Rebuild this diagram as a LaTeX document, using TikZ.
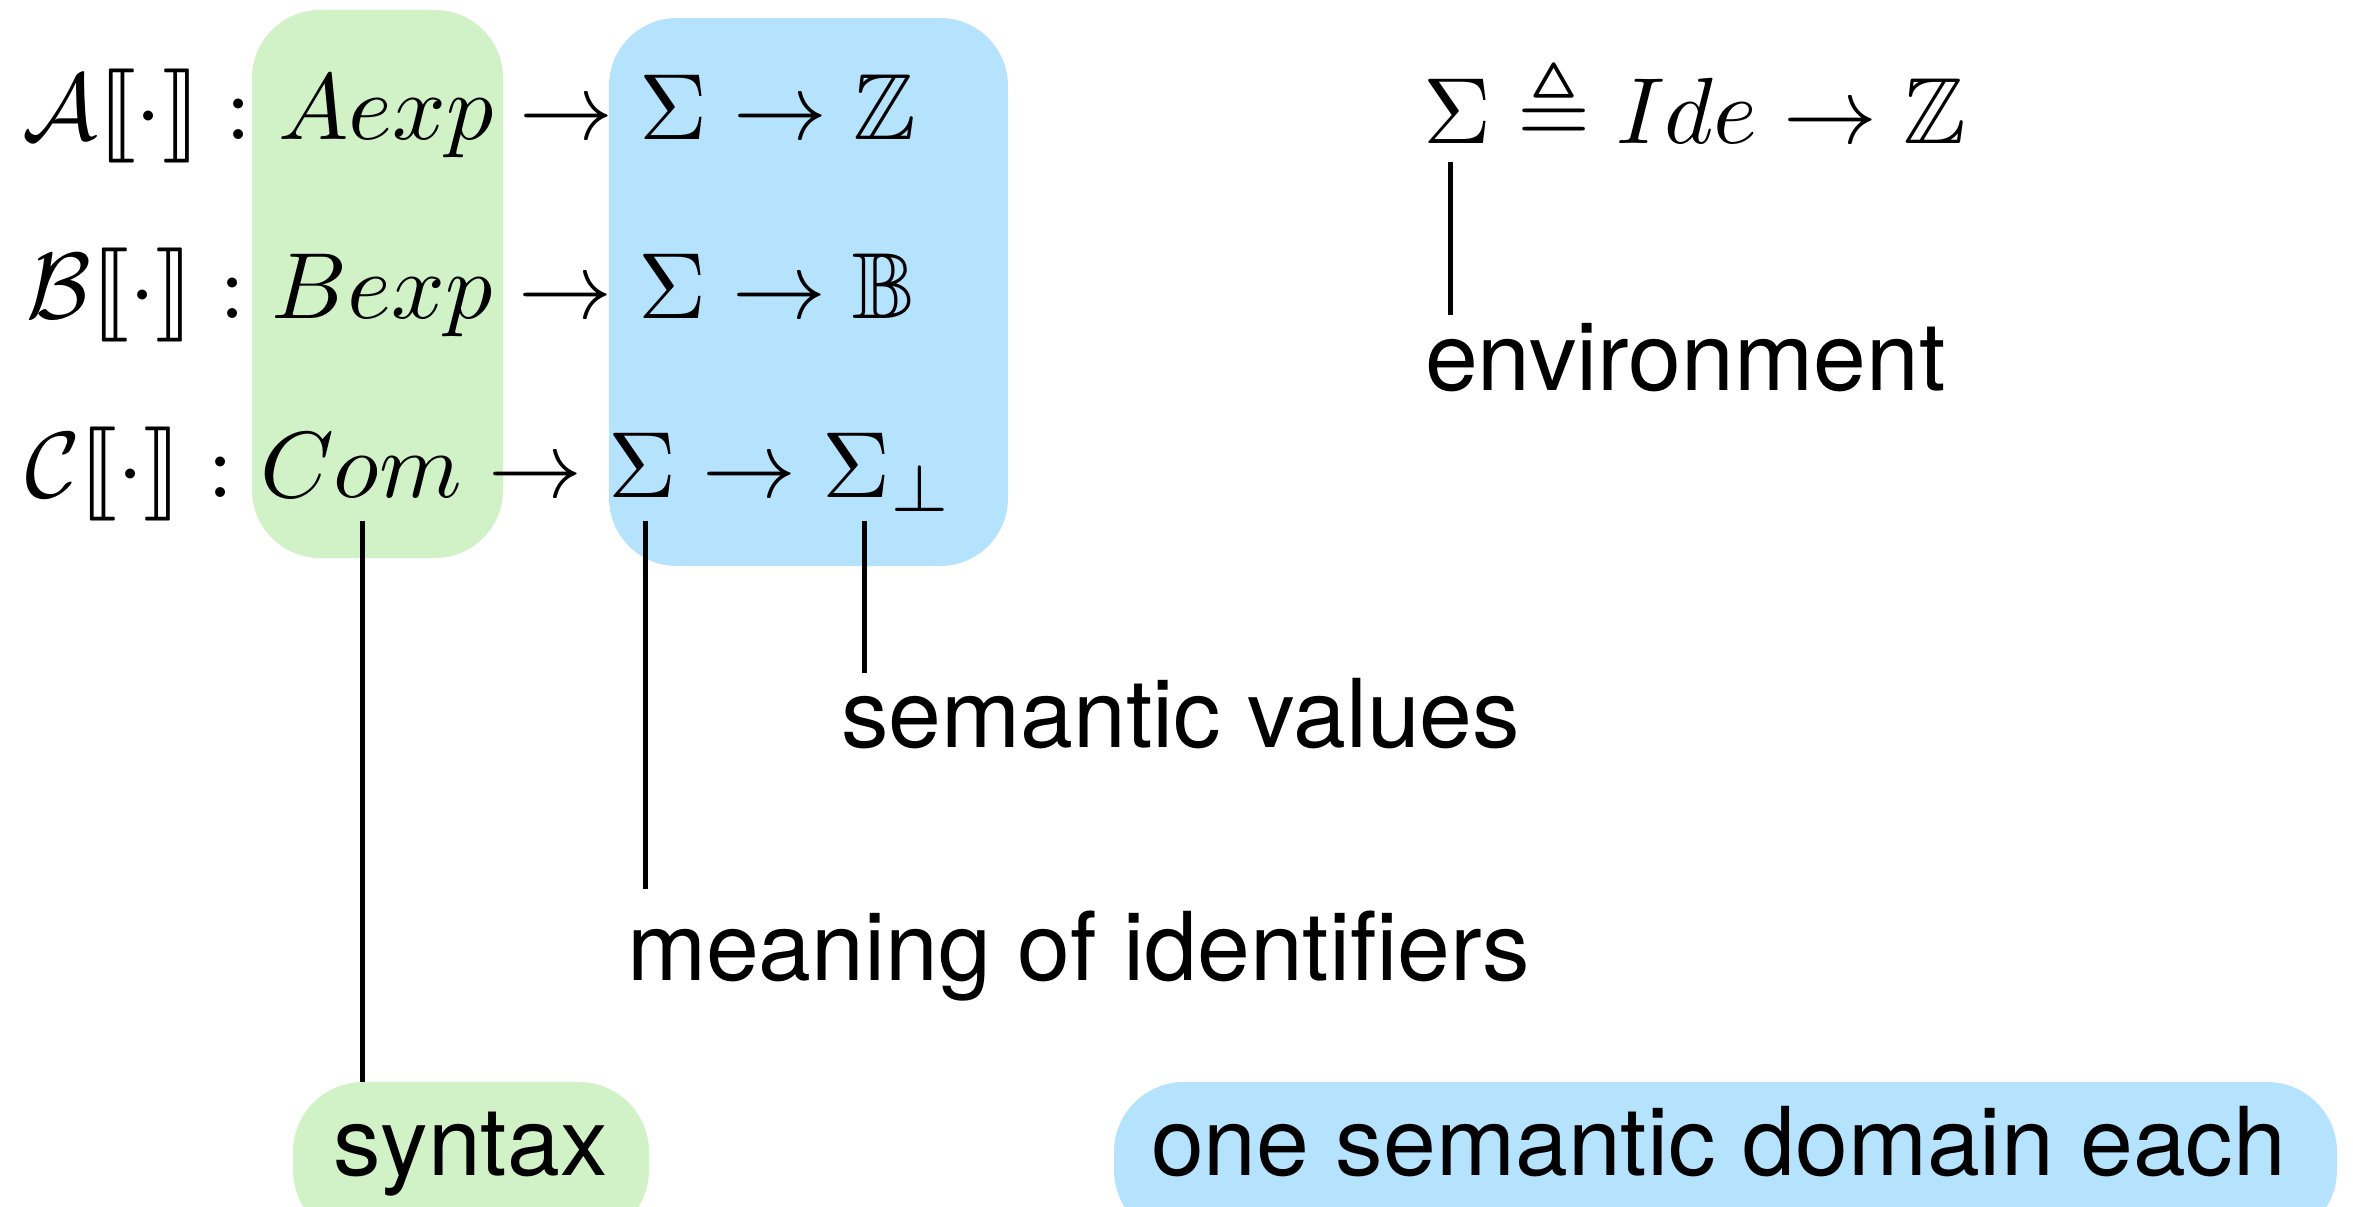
\documentclass[tikz,border=0pt]{standalone}
\usepackage[no-math]{fontspec}
\usepackage{amssymb}
\usepackage{stmaryrd}
\usepackage{graphicx}
\newfontfamily\labfont{TeX Gyre Heros}
\definecolor{synfill}{RGB}{208,242,198}
\definecolor{semfill}{RGB}{181,227,254}
\tikzset{
  mathrow/.style={anchor=base west, inner sep=0pt, outer sep=0pt},
  labeltext/.style={anchor=base west, inner sep=0pt, outer sep=0pt,
    font=\labfont\fontsize{95}{110}\selectfont},
  pill/.style={rounded corners=70pt},
  bigbox/.style={rounded corners=68pt},
  leader/.style={line width=5pt, black}
}
\newcommand{\mbig}[1]{\scalebox{9.4}{$#1$}}
\begin{document}
\begin{tikzpicture}[x=1pt,y=-1pt]
\useasboundingbox (0,0) rectangle (2353,1207);
\clip (0,0) rectangle (2353,1207);
% background boxes
\fill[synfill, bigbox] (252,10) rectangle (503,558);
\fill[semfill, bigbox] (609,18) rectangle (1008,566);
% formula rows
\node[mathrow] (rowA) at (23,139) {\mbig{\mathcal{A}\llbracket\cdot\rrbracket : Aexp \rightarrow \Sigma \rightarrow \mathbb{Z}}};
\node[mathrow] (rowB) at (27,318) {\mbig{\mathcal{B}\llbracket\cdot\rrbracket : Bexp \rightarrow \Sigma \rightarrow \mathbb{B}}};
\node[mathrow] (rowC) at (25,497) {\mbig{\mathcal{C}\llbracket\cdot\rrbracket : Com \rightarrow \Sigma \rightarrow \Sigma_{\bot}}};
\node[mathrow] (sigdef) at (1423,143) {\mbig{\Sigma \triangleq Ide \rightarrow \mathbb{Z}}};
% labels
\node[labeltext] (env) at (1425,390) {environment};
\node[labeltext] (semval) at (841,747) {semantic values};
\node[labeltext] (meaning) at (627,980) {meaning of identifiers};
\fill[synfill, pill] (293,1082) coordinate (synpilltop) rectangle (649,1240);
\fill[semfill, pill] (1114,1082) rectangle (2337,1240);
\node[labeltext] (syntax) at (333,1175) {syntax};
\node[labeltext] (semdom) at (1151,1175) {one semantic domain each};
% leader lines
\coordinate (comtip) at (362,521);
\coordinate (sigtip) at (645,521);
\coordinate (bottip) at (864,521);
\coordinate (envtip) at (1450,162);
\coordinate (sigend) at (645,889);
\coordinate (botend) at (864,673);
\coordinate (envend) at (1450,315);
\draw[leader] (comtip) -- (comtip |- synpilltop);
\draw[leader] (sigtip) -- (sigend);
\draw[leader] (bottip) -- (botend);
\draw[leader] (envtip) -- (envend);
\end{tikzpicture}
\end{document}
